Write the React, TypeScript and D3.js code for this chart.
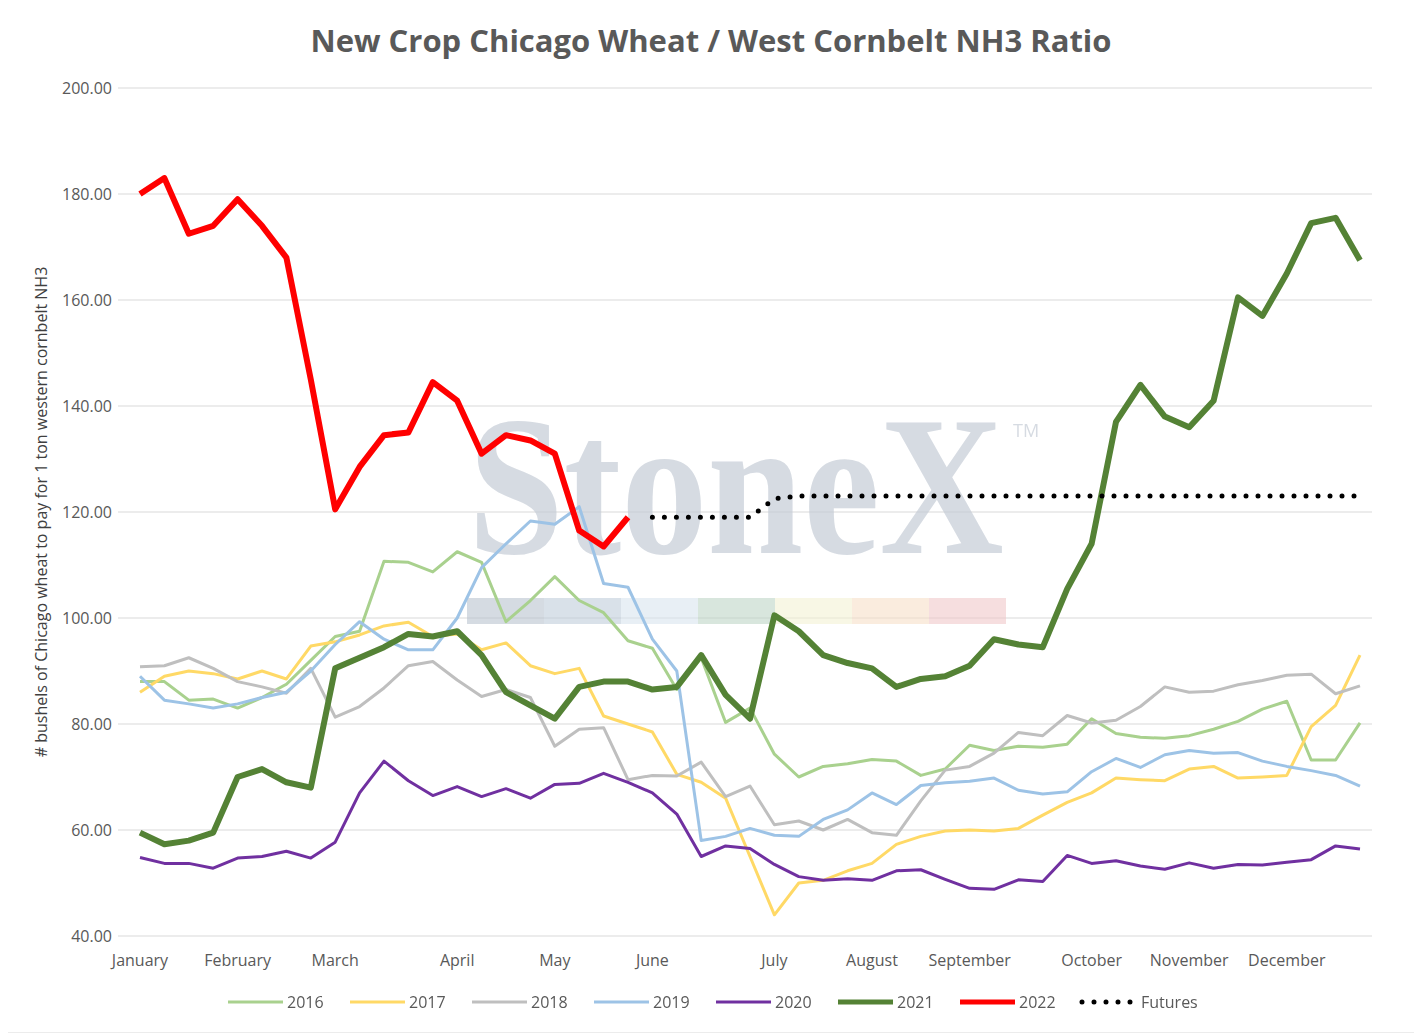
import * as d3 from "d3"

const months = ["January", "February", "March", "April", "May", "June", "July", "August", "September", "October", "November", "December"]
const monthWeeks = [0, 4, 8, 13, 17, 21, 26, 30, 34, 39, 43, 47]
const yTicks = [40, 60, 80, 100, 120, 140, 160, 180, 200]

const s2016 = [88,88,84.5,84.7,83,85,87.5,92,96.5,97.5,110.7,110.5,108.7,112.5,110.5,99.3,103.3,107.8,103.3,101,95.7,94.3,86.5,92.5,80.3,83,74.3,70,72,72.5,73.3,73,70.3,71.5,76,75,75.8,75.6,76.2,81,78.2,77.5,77.3,77.8,79,80.5,82.8,84.3,73.2,73.2,80.2]
const s2017 = [86,89,90,89.5,88.5,90,88.5,94.7,95.5,96.8,98.5,99.2,96.5,97,94,95.3,91,89.5,90.5,81.5,80,78.5,70.5,69,66,55,44,50,50.5,52.3,53.7,57.3,58.8,59.8,60,59.8,60.3,62.8,65.2,67,69.8,69.5,69.3,71.5,72,69.8,70,70.3,79.5,83.5,93]
const s2018 = [90.8,91,92.5,90.5,88,87,85.8,90.5,81.3,83.3,86.8,91,91.8,88.3,85.2,86.5,85,75.8,79,79.3,69.5,70.3,70.2,72.8,66.3,68.3,61,61.7,60,62,59.5,59,65.5,71.3,72,74.5,78.4,77.8,81.6,80.2,80.7,83.3,87,86,86.2,87.4,88.2,89.2,89.4,85.7,87.2]
const s2019 = [89,84.5,83.8,83,83.8,85,86,90,95,99.3,96,94,94,100,109.5,114,118.3,117.7,121,106.5,105.8,96,90,58,58.8,60.3,59,58.8,62,63.8,67,64.8,68.4,68.9,69.2,69.8,67.5,66.8,67.2,71,73.5,71.8,74.2,75,74.5,74.6,73,72,71.2,70.3,68.3]
const s2020 = [54.8,53.7,53.7,52.8,54.7,55,56,54.7,57.7,67,73,69.3,66.5,68.2,66.3,67.8,66,68.6,68.8,70.7,69,67,63,55,57,56.5,53.5,51.2,50.5,50.8,50.5,52.3,52.5,50.7,49,48.8,50.6,50.3,55.2,53.7,54.2,53.2,52.6,53.8,52.8,53.5,53.4,53.9,54.4,57,56.4]
const s2021 = [59.5,57.3,58,59.5,70,71.5,69,68,90.5,92.5,94.5,97,96.5,97.5,93,86,83.5,81,87,88,88,86.5,87,93,85.5,81,100.5,97.5,93,91.5,90.5,87,88.5,89,91,96,95,94.5,105.5,114,137,144,138,136,141,160.5,157,165,174.5,175.5,167.5]
const s2022 = [180,183,172.5,174,179,174,168,145,120.5,128.5,134.5,135,144.5,141,131,134.5,133.5,131,116.5,113.5,119]
const futuresStart = 21
const futures = [119,119,119,119,119,122.5,123,123,123,123,123,123,123,123,123,123,123,123,123,123,123,123,123,123,123,123,123,123,123,123]

const series = [
  { name: "2016", data: s2016, color: "#a9d18e", width: 3, start: 0 },
  { name: "2017", data: s2017, color: "#ffd966", width: 3, start: 0 },
  { name: "2018", data: s2018, color: "#bfbfbf", width: 3, start: 0 },
  { name: "2019", data: s2019, color: "#9dc3e6", width: 3, start: 0 },
  { name: "2020", data: s2020, color: "#7030a0", width: 3, start: 0 },
  { name: "2021", data: s2021, color: "#548235", width: 6, start: 0 },
  { name: "2022", data: s2022, color: "#ff0000", width: 6, start: 0 },
]

const font = "'Open Sans', 'Liberation Sans', sans-serif"

export default function App() {
  const x = d3.scaleLinear().domain([0, 50]).range([140, 1360])
  const y = d3.scaleLinear().domain([40, 200]).range([936, 88])
  const line = (start: number) =>
    d3.line<number>().x((_, i) => x(i + start)).y((d) => y(d))

  const bands = ["#b4bfcc", "#bcc9d8", "#d6e2ee", "#b9d2c2", "#f3f0d0", "#f6dcc4", "#efc4c6"]

  const legend = [...series.map((s) => ({ name: s.name, color: s.color, dash: false })), { name: "Futures", color: "#000", dash: true }]

  return (
    <svg width={1422} height={1033} style={{ display: "block", marginTop: -8, marginLeft: -8 }} fontFamily={font}>
      <rect width={1422} height={1033} fill="#fff" stroke="#d9d9d9" />
      <text x={711} y={52} textAnchor="middle" fontSize={31} fontWeight="bold" fill="#595959">
        New Crop Chicago Wheat / West Cornbelt NH3 Ratio
      </text>

      {yTicks.map((t) => (
        <g key={t}>
          <line x1={118} x2={1372} y1={y(t)} y2={y(t)} stroke="#d9d9d9" />
          <text x={112} y={y(t) + 6} textAnchor="end" fontSize={16} fill="#595959">{t.toFixed(2)}</text>
        </g>
      ))}
      {months.map((m, i) => (
        <text key={m} x={x(monthWeeks[i])} y={966} textAnchor="middle" fontSize={16} fill="#595959">{m}</text>
      ))}
      <text transform="translate(47,512) rotate(-90)" textAnchor="middle" fontSize={16} fill="#404040">
        # bushels of Chicago wheat to pay for 1 ton western cornbelt NH3
      </text>

      {/* watermark */}
      <g opacity={0.7}>
        <text x={736} y={553} textAnchor="middle" fontSize={200} textLength={536} lengthAdjust="spacingAndGlyphs"
          fontFamily="'Liberation Serif', serif" fontWeight="bold" fill="#c5ccd6">StoneX</text>
        <text x={1013} y={437} fontSize={18} fill="#c5ccd6">TM</text>
        {bands.map((c, i) => (
          <rect key={i} x={467 + i * 77} y={598} width={77} height={26} fill={c} opacity={0.8} />
        ))}
      </g>

      {series.map((s) => (
        <path key={s.name} d={line(s.start)(s.data) ?? ""} fill="none" stroke={s.color} strokeWidth={s.width} strokeLinejoin="round" />
      ))}
      <path d={line(futuresStart)(futures) ?? ""} fill="none" stroke="#000" strokeWidth={5} strokeDasharray="0 12" strokeLinecap="round" />

      {legend.map((l, i) => {
        const lx = 228 + i * 122
        return (
          <g key={l.name}>
            <line x1={lx} x2={lx + 55} y1={1002} y2={1002} stroke={l.color} strokeWidth={l.dash ? 5 : l.name === "2021" || l.name === "2022" ? 5 : 3}
              strokeDasharray={l.dash ? "0 12" : undefined} strokeLinecap={l.dash ? "round" : "butt"} />
            <text x={lx + 59} y={1008} fontSize={16} fill="#595959">{l.name}</text>
          </g>
        )
      })}
    </svg>
  )
}
